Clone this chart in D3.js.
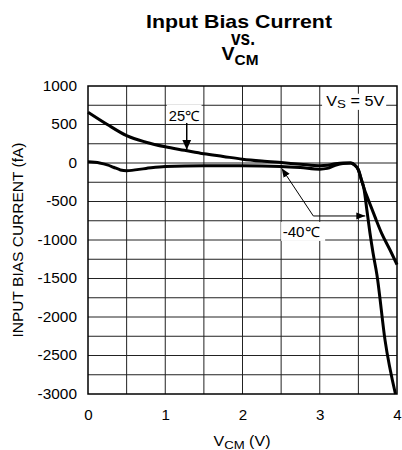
<!DOCTYPE html>
<html><head><meta charset="utf-8">
<script src="https://cdn.jsdelivr.net/npm/d3@7/dist/d3.min.js"></script>
<style>body{margin:0;background:#fff}svg{display:block}</style>
</head><body>
<svg id="c" width="402" height="450"></svg>
<script>
// ---- data ----
const xTicks = [0, 1, 2, 3, 4];
const yTicks = [1000, 500, 0, -500, -1000, -1500, -2000, -2500, -3000];
const vcm25 = [0, 0.25, 0.5, 0.75, 1.0, 1.25, 1.5, 1.75, 2.0, 2.25, 2.5, 2.75, 3.0, 3.1, 3.2, 3.3, 3.4, 3.45, 3.5, 3.54, 3.57, 3.63, 3.715, 3.8, 3.91, 4.0];
const ib25  = [660, 500, 355, 270, 210, 165, 120, 85, 50, 25, 5, -15, -35, -30, -10, 0, 0, -25, -90, -220, -320, -480, -700, -910, -1130, -1320];
const vcm40 = [0, 0.15, 0.25, 0.33, 0.42, 0.5, 0.75, 1.0, 1.5, 2.0, 2.5, 2.75, 3.0, 3.1, 3.2, 3.3, 3.4, 3.45, 3.5, 3.54, 3.57, 3.61, 3.65, 3.69, 3.74, 3.845, 3.98];
const ib40  = [15, 0, -25, -55, -90, -100, -70, -45, -35, -35, -45, -60, -80, -70, -30, -5, 0, -25, -90, -220, -320, -610, -910, -1170, -1450, -2300, -3000];

const FONT = "'Liberation Sans', Arial, Helvetica, sans-serif";
const svg = d3.select("#c");
const x = d3.scaleLinear().domain([0, 4]).range([88, 397]);
const y = d3.scaleLinear().domain([-3000, 1000]).range([394, 86]);

function stretch(sel, k) {
  sel.each(function () {
    const w = this.getComputedTextLength();
    d3.select(this).attr("textLength", w * k).attr("lengthAdjust", "spacingAndGlyphs");
  });
}
function fixLen(sel, w) { sel.attr("textLength", w).attr("lengthAdjust", "spacingAndGlyphs"); }

// defs: arrowheads
const defs = svg.append("defs");
defs.append("marker").attr("id", "ah").attr("markerUnits", "userSpaceOnUse")
  .attr("viewBox", "0 -5 10 10").attr("refX", 10).attr("refY", 0)
  .attr("markerWidth", 10).attr("markerHeight", 10).attr("orient", "auto")
  .append("path").attr("d", "M0,-4.5L10,0L0,4.5Z").attr("fill", "#000");
defs.append("marker").attr("id", "ah2").attr("markerUnits", "userSpaceOnUse")
  .attr("viewBox", "0 -5 10 10").attr("refX", 10).attr("refY", 0)
  .attr("markerWidth", 9).attr("markerHeight", 9).attr("orient", "auto")
  .append("path").attr("d", "M0,-4L10,0L0,4Z").attr("fill", "#000");

// grid
const g = svg.append("g");
g.selectAll("line.vx").data(d3.range(0.5, 4, 0.5)).join("line")
  .attr("x1", d => x(d)).attr("x2", d => x(d)).attr("y1", y(1000)).attr("y2", y(-3000))
  .attr("stroke", "#222").attr("stroke-width", 1);
g.selectAll("line.hy").data(d3.range(-2750, 1000, 250)).join("line")
  .attr("y1", d => y(d)).attr("y2", d => y(d)).attr("x1", x(0)).attr("x2", x(4))
  .attr("stroke", "#222").attr("stroke-width", 1);
svg.append("rect").attr("x", x(0)).attr("y", y(1000)).attr("width", x(4) - x(0)).attr("height", y(-3000) - y(1000))
  .attr("fill", "none").attr("stroke", "#000").attr("stroke-width", 1.5);

// axes
const ay = svg.append("g").attr("transform", `translate(${x(0)},0)`)
  .call(d3.axisLeft(y).tickValues(yTicks).tickSize(0).tickPadding(11).tickFormat(d => String(d)));
ay.select(".domain").remove();
ay.selectAll("text").attr("font-family", FONT).attr("font-size", 14).attr("fill", "#000");
stretch(ay.selectAll("text"), 1.1);

const ax = svg.append("g").attr("transform", `translate(0,${y(-3000)})`)
  .call(d3.axisBottom(x).tickValues(xTicks).tickSize(0).tickPadding(16).tickFormat(d => String(d)));
ax.select(".domain").remove();
ax.selectAll("text").attr("font-family", FONT).attr("font-size", 14).attr("fill", "#000");
stretch(ax.selectAll("text"), 1.08);

// curves
const line = d3.line().x(d => x(d[0])).y(d => y(d[1])).curve(d3.curveMonotoneX);
const d25 = vcm25.map((v, i) => [v, ib25[i]]);
const d40 = vcm40.map((v, i) => [v, ib40[i]]);
[d25, d40].forEach(d => {
  svg.append("path").datum(d).attr("d", line).attr("fill", "none")
    .attr("stroke", "#000").attr("stroke-width", 3).attr("stroke-linejoin", "round");
});

// annotations
// VS = 5V
svg.append("rect").attr("x", x(3.03)).attr("y", y(900)).attr("width", x(3.86) - x(3.03)).attr("height", y(690) - y(900)).attr("fill", "#fff");
const vs = svg.append("text").attr("x", x(3.46)).attr("y", y(745)).attr("text-anchor", "middle")
  .attr("font-family", FONT).attr("font-size", 14).attr("fill", "#000");
vs.append("tspan").text("V");
vs.append("tspan").attr("font-size", 11.5).attr("dy", 2).text("S");
vs.append("tspan").attr("dy", -2).text(" = 5V");
fixLen(vs, 58);

// 25C
svg.append("rect").attr("x", x(1.02)).attr("y", y(760)).attr("width", x(1.47) - x(1.02)).attr("height", y(520) - y(760)).attr("fill", "#fff");
const t25 = svg.append("text").attr("x", x(1.02) + 2).attr("y", y(545)).attr("font-family", FONT).attr("font-size", 14).attr("fill", "#000").text("25℃");
fixLen(t25, 31);
svg.append("line").attr("x1", x(1.278)).attr("x2", x(1.278)).attr("y1", y(520)).attr("y2", y(172))
  .attr("stroke", "#000").attr("stroke-width", 1.5).attr("marker-end", "url(#ah)");

// -40C
svg.append("rect").attr("x", x(2.5)).attr("y", y(-765)).attr("width", x(3.07) - x(2.5)).attr("height", y(-1012) - y(-765)).attr("fill", "#fff");
const t40 = svg.append("text").attr("x", x(2.52)).attr("y", 237).attr("font-family", FONT).attr("font-size", 14).attr("fill", "#000").text("-40℃");
fixLen(t40, 37);
svg.append("line").attr("x1", x(2.917)).attr("y1", y(-688)).attr("x2", x(2.507)).attr("y2", y(-69))
  .attr("stroke", "#000").attr("stroke-width", 1).attr("marker-end", "url(#ah2)");
svg.append("line").attr("x1", x(2.917)).attr("y1", y(-688)).attr("x2", x(3.59)).attr("y2", y(-688))
  .attr("stroke", "#000").attr("stroke-width", 1).attr("marker-end", "url(#ah2)");

// axis titles
const yt = svg.append("text").attr("transform", "translate(23,240) rotate(-90)").attr("text-anchor", "middle")
  .attr("font-family", FONT).attr("font-size", 14).attr("fill", "#000").text("INPUT BIAS CURRENT (fA)");
fixLen(yt, 195);
const xt = svg.append("text").attr("x", 242).attr("y", 446).attr("text-anchor", "middle")
  .attr("font-family", FONT).attr("font-size", 14).attr("fill", "#000");
xt.append("tspan").text("V");
xt.append("tspan").attr("font-size", 11.5).attr("dy", 2.5).text("CM");
xt.append("tspan").attr("dy", -2.5).text(" (V)");
fixLen(xt, 57);

// title
const t1 = svg.append("text").attr("x", 239).attr("y", 28).attr("text-anchor", "middle")
  .attr("font-family", FONT).attr("font-weight", "bold").attr("font-size", 19).attr("fill", "#000").text("Input Bias Current");
fixLen(t1, 186);
const t2 = svg.append("text").attr("x", 243).attr("y", 45).attr("text-anchor", "middle")
  .attr("font-family", FONT).attr("font-weight", "bold").attr("font-size", 20).attr("fill", "#000").text("vs.");
fixLen(t2, 24);
const t3 = svg.append("text").attr("x", 240).attr("y", 60).attr("text-anchor", "middle")
  .attr("font-family", FONT).attr("font-weight", "bold").attr("font-size", 18.5).attr("fill", "#000");
t3.append("tspan").text("V");
t3.append("tspan").attr("font-size", 14.5).attr("dy", 5).text("CM");
fixLen(t3, 37);
</script>
</body></html>
